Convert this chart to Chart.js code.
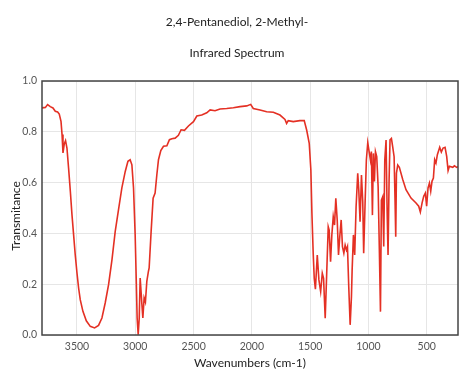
<!DOCTYPE html>
<html>
<head>
<meta charset="utf-8">
<script src="https://cdn.jsdelivr.net/npm/chart.js@4/dist/chart.umd.min.js"></script>
<style>
  html, body { margin: 0; padding: 0; background: #ffffff; }
  #wrap { width: 474px; height: 378px; }
</style>
</head>
<body>
<div id="wrap"><canvas id="c" width="474" height="378"></canvas></div>
<script>
const titleLines = ["2,4-Pentanediol, 2-Methyl-", "Infrared Spectrum"];
const xTitle = "Wavenumbers (cm-1)";
const yTitle = "Transmitance";
const xTicks = [3500, 3000, 2500, 2000, 1500, 1000, 500];
const yTicks = [0, 0.2, 0.4, 0.6, 0.8, 1.0];

const wavenumbers = [
  3800, 3771, 3752, 3729, 3706, 3686, 3666, 3652, 3637, 3628, 3620, 3609, 3598, 3586, 3572,
  3557, 3543, 3529, 3515, 3500, 3486, 3472, 3449, 3420, 3386, 3349, 3315, 3286, 3258, 3229,
  3200, 3172, 3144, 3115, 3086, 3063, 3044, 3029, 3015, 3001, 2992, 2984, 2975, 2966, 2958,
  2943, 2935, 2924, 2913, 2901, 2887, 2881, 2864, 2847, 2830, 2815, 2801, 2781, 2758, 2729,
  2707, 2686, 2658, 2630, 2607, 2578, 2544, 2501, 2472, 2430, 2387, 2358, 2316, 2273, 2216,
  2159, 2101, 2044, 2010, 1988, 1930, 1873, 1816, 1759, 1716, 1702, 1688, 1645, 1588, 1551,
  1530, 1508, 1494, 1485, 1474, 1465, 1455, 1439, 1425, 1410, 1396, 1385, 1371, 1359, 1345,
  1337, 1325, 1314, 1302, 1291, 1280, 1268, 1257, 1246, 1234, 1223, 1211, 1200, 1189, 1180,
  1169, 1157, 1146, 1140, 1129, 1118, 1106, 1092, 1083, 1072, 1060, 1049, 1041, 1029, 1018,
  1006, 992, 983, 975, 966, 958, 949, 940, 929, 917, 906, 897, 889, 878, 869,
  860, 849, 840, 832, 823, 815, 803, 792, 780, 772, 766, 760, 749, 735, 706,
  678, 635, 592, 569, 555, 540, 526, 512, 501, 489, 477, 466, 455, 443, 432,
  421, 409, 389, 375, 360, 343, 329, 317, 306, 277, 263, 243, 232
];
const transmittance = [
  0.894, 0.896, 0.907, 0.899, 0.894, 0.881, 0.878, 0.870, 0.841, 0.789, 0.717, 0.752, 0.765, 0.736, 0.657,
  0.566, 0.474, 0.395, 0.316, 0.244, 0.185, 0.139, 0.093, 0.056, 0.034, 0.028, 0.038, 0.067, 0.126, 0.198,
  0.296, 0.408, 0.493, 0.579, 0.644, 0.684, 0.690, 0.670, 0.579, 0.395, 0.224, 0.067, 0.001, 0.067, 0.224,
  0.119, 0.067, 0.146, 0.130, 0.211, 0.251, 0.264, 0.408, 0.539, 0.559, 0.631, 0.690, 0.726, 0.743, 0.745,
  0.769, 0.773, 0.775, 0.786, 0.808, 0.806, 0.823, 0.840, 0.862, 0.866, 0.875, 0.886, 0.883, 0.890, 0.892,
  0.895, 0.899, 0.902, 0.908, 0.892, 0.886, 0.879, 0.877, 0.866, 0.849, 0.833, 0.844, 0.840, 0.844, 0.844,
  0.807, 0.755, 0.650, 0.479, 0.322, 0.223, 0.180, 0.315, 0.217, 0.171, 0.243, 0.223, 0.066, 0.230, 0.426,
  0.413, 0.289, 0.394, 0.466, 0.433, 0.538, 0.453, 0.315, 0.387, 0.453, 0.348, 0.322, 0.354, 0.335, 0.348,
  0.190, 0.040, 0.150, 0.256, 0.394, 0.315, 0.505, 0.637, 0.571, 0.446, 0.630, 0.525, 0.322, 0.518, 0.689,
  0.757, 0.715, 0.689, 0.722, 0.472, 0.715, 0.604, 0.722, 0.702, 0.584, 0.322, 0.092, 0.531, 0.544, 0.348,
  0.689, 0.768, 0.492, 0.315, 0.610, 0.768, 0.774, 0.741, 0.702, 0.531, 0.387, 0.637, 0.669, 0.660, 0.612,
  0.572, 0.539, 0.520, 0.507, 0.484, 0.520, 0.546, 0.559, 0.507, 0.579, 0.598, 0.566, 0.605, 0.618, 0.690,
  0.677, 0.710, 0.739, 0.720, 0.736, 0.739, 0.703, 0.647, 0.664, 0.660, 0.666, 0.660, 0.663
];

const FONT = "Lato, 'Open Sans', sans-serif";

const decor = {
  id: 'decor',
  afterDraw(chart) {
    const { ctx, chartArea: a } = chart;
    ctx.save();
    ctx.strokeStyle = '#444444';
    ctx.lineWidth = 1.5;
    ctx.strokeRect(a.left, a.top, a.right - a.left, a.bottom - a.top);
    ctx.fillStyle = '#222222';
    ctx.font = "12px " + FONT;
    ctx.textAlign = 'center';
    ctx.textBaseline = 'alphabetic';
    ctx.fillText(titleLines[0], 237, 26);
    ctx.fillText(titleLines[1], 237, 57);
    ctx.translate(16, 216);
    ctx.rotate(-Math.PI / 2);
    ctx.textBaseline = 'middle';
    ctx.fillText(yTitle, 0, 0);
    ctx.restore();
  }
};

const points = wavenumbers.map((w, i) => ({ x: w, y: transmittance[i] }));

new Chart(document.getElementById('c'), {
  type: 'line',
  data: {
    datasets: [{
      data: points,
      borderColor: 'rgb(228, 48, 36)',
      borderWidth: 1.6,
      pointRadius: 0,
      tension: 0,
      fill: false
    }]
  },
  options: {
    responsive: false,
    animation: false,
    events: [],
    layout: { padding: { top: 81, right: 16, left: 0, bottom: 0 } },
    plugins: { legend: { display: false }, tooltip: { enabled: false }, title: { display: false } },
    scales: {
      x: {
        type: 'linear',
        reverse: true,
        min: 232,
        max: 3800,
        afterFit(s) { s.height = 43; },
        afterBuildTicks(s) { s.ticks = xTicks.map(v => ({ value: v })); },
        grid: { color: '#e6e6e6', lineWidth: 1, drawTicks: false },
        border: { display: false },
        ticks: {
          padding: 5,
          color: '#555555',
          font: { family: FONT, size: 10.5 },
          maxRotation: 0,
          callback: v => String(v)
        },
        title: {
          display: true,
          text: xTitle,
          color: '#222222',
          font: { family: FONT, size: 12 },
          padding: { top: 0, bottom: 8 }
        }
      },
      y: {
        min: 0,
        max: 1,
        afterFit(s) { s.width = 42; },
        afterBuildTicks(s) { s.ticks = yTicks.map(v => ({ value: v })); },
        grid: { color: '#e6e6e6', lineWidth: 1, drawTicks: false },
        border: { display: false },
        ticks: {
          padding: 5,
          color: '#555555',
          font: { family: FONT, size: 10.5 },
          callback: v => Number(v).toFixed(1)
        }
      }
    }
  },
  plugins: [decor]
});
</script>
</body>
</html>
